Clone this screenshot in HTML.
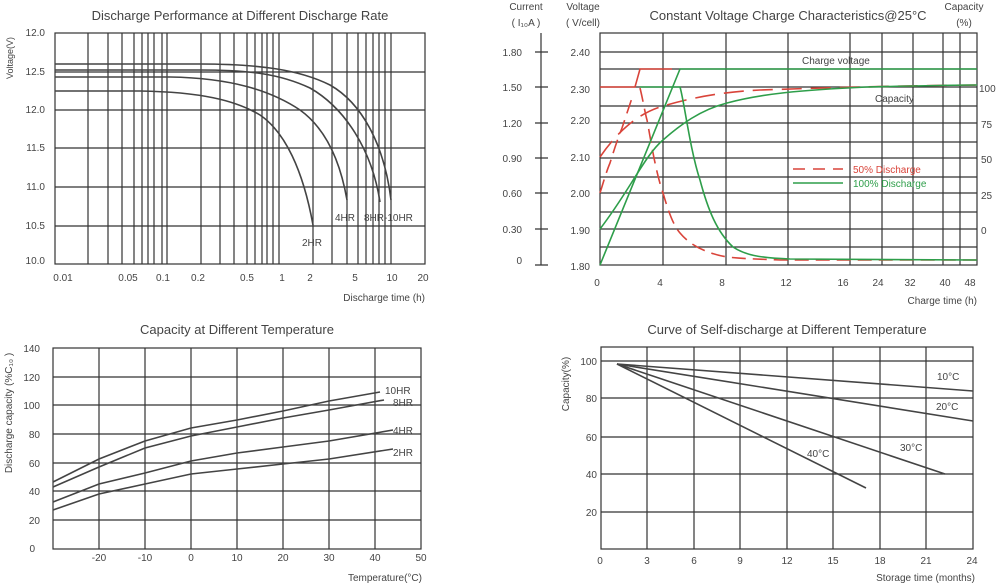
<!DOCTYPE html>
<html><head><meta charset="utf-8"><style>
html,body{margin:0;padding:0;background:#fff;}
svg{display:block;font-family:"Liberation Sans",sans-serif;}
text{fill:#444;}
.g{stroke:#333;stroke-width:1.2;fill:none;}
.c{stroke:#444;stroke-width:1.6;fill:none;}
</style></head><body>
<svg width="1000" height="588" viewBox="0 0 1000 588" xmlns="http://www.w3.org/2000/svg">
<!-- Chart 1 -->
<text x="240" y="20" font-size="13" text-anchor="middle">Discharge Performance at Different Discharge Rate</text>
<rect x="55" y="33" width="370" height="231" class="g"/>
<g class="g">
<path d="M55 72H425M55 110H425M55 148H425M55 187H425M55 226H425"/>
<path d="M88 33V264M108 33V264M122 33V264M134 33V264M142 33V264M148 33V264M154 33V264M162 33V264M167 33V264M201 33V264M220 33V264M234 33V264M247 33V264M255 33V264M262 33V264M267 33V264M273 33V264M279 33V264M313 33V264M332 33V264M347 33V264M358 33V264M366 33V264M373 33V264M379 33V264M385 33V264M391 33V264"/>
</g>
<g font-size="10" text-anchor="end">
<text x="45" y="36">12.0</text><text x="45" y="75">12.5</text><text x="45" y="113">12.0</text><text x="45" y="151">11.5</text><text x="45" y="190">11.0</text><text x="45" y="229">10.5</text><text x="45" y="264">10.0</text>
</g>
<g font-size="10" text-anchor="middle">
<text x="63" y="281">0.01</text><text x="128" y="281">0.05</text><text x="163" y="281">0.1</text><text x="198" y="281">0.2</text><text x="247" y="281">0.5</text><text x="282" y="281">1</text><text x="310" y="281">2</text><text x="355" y="281">5</text><text x="392" y="281">10</text><text x="423" y="281">20</text>
</g>
<text x="425" y="301" font-size="10" text-anchor="end">Discharge time (h)</text>
<text transform="translate(13,58) rotate(-90)" font-size="9" text-anchor="middle">Voltage(V)</text>
<g class="c">
<path d="M55 64H200C260 64 300 70 330 85C365 105 385 150 391 200"/>
<path d="M55 70H200C250 70 280 74 310 88C345 108 372 150 380 202"/>
<path d="M55 77H170C230 78 270 90 300 110C325 128 340 160 347 200"/>
<path d="M55 91H140C200 92 235 100 260 115C285 132 303 170 313 225"/>
</g>
<g font-size="10"><text x="302" y="246">2HR</text><text x="335" y="221">4HR</text><text x="364" y="221">8HR-10HR</text></g>

<!-- Chart 2 -->
<text x="788" y="20" font-size="13" text-anchor="middle">Constant Voltage Charge Characteristics@25°C</text>
<rect x="600" y="33" width="377" height="232" class="g"/>
<g class="g">
<path d="M600 52H977M600 69H977M600 87H977M600 106H977M600 123H977M600 142H977M600 158H977M600 177H977M600 193H977M600 212H977M600 229H977M600 247H977"/>
<path d="M663 33V265M726 33V265M788 33V265M850 33V265M882 33V265M913 33V265M943 33V265M960 33V265"/>
<path d="M541 33V265M535 52H548M535 87H548M535 123H548M535 158H548M535 193H548M535 229H548M535 265H548"/>
</g>
<g font-size="10">
<text x="526" y="10" text-anchor="middle">Current</text><text x="526" y="26" text-anchor="middle">( I₁₀A )</text>
<text x="583" y="10" text-anchor="middle">Voltage</text><text x="583" y="26" text-anchor="middle">( V/cell)</text>
<text x="964" y="10" text-anchor="middle">Capacity</text><text x="964" y="26" text-anchor="middle">(%)</text>
</g>
<g font-size="10" text-anchor="end">
<text x="522" y="56">1.80</text><text x="522" y="91">1.50</text><text x="522" y="127">1.20</text><text x="522" y="162">0.90</text><text x="522" y="197">0.60</text><text x="522" y="233">0.30</text><text x="522" y="264">0</text>
<text x="590" y="56">2.40</text><text x="590" y="93">2.30</text><text x="590" y="124">2.20</text><text x="590" y="161">2.10</text><text x="590" y="197">2.00</text><text x="590" y="234">1.90</text><text x="590" y="270">1.80</text>
</g>
<g font-size="10"><text x="979" y="92">100</text><text x="981" y="128">75</text><text x="981" y="163">50</text><text x="981" y="199">25</text><text x="981" y="234">0</text></g>
<g font-size="10" text-anchor="middle">
<text x="597" y="286">0</text><text x="660" y="286">4</text><text x="722" y="286">8</text><text x="786" y="286">12</text><text x="843" y="286">16</text><text x="878" y="286">24</text><text x="910" y="286">32</text><text x="945" y="286">40</text><text x="970" y="286">48</text>
</g>
<text x="977" y="304" font-size="10" text-anchor="end">Charge time (h)</text>
<g fill="none" stroke-width="1.6">
<path d="M600 87H635L640 69H672" stroke="#d9443a"/>
<path d="M640 88C643 100 645 113 647 120C650 135 655 170 663 193C668 210 673 225 680 233C690 245 705 253 727 257C745 259 760 259 780 260L977 260" stroke="#d9443a" stroke-dasharray="14 7"/>
<path d="M600 193C604 180 607 170 610 163C614 150 618 138 622 128L632 98" stroke="#d9443a" stroke-dasharray="14 7"/>
<path d="M600 157C615 135 635 115 660 107C690 98 720 92 760 90C820 88 880 86 977 85" stroke="#d9443a" stroke-dasharray="20 9"/>
<path d="M600 265L680 69H977" stroke="#2e9e4a"/>
<path d="M640 87H680C684 100 690 150 700 180C708 210 717 232 733 247C745 255 760 258 790 259L977 260" stroke="#2e9e4a"/>
<path d="M600 229C630 190 645 155 663 140C680 125 700 110 727 103C760 94 800 90 867 87C910 86 950 85 977 85" stroke="#2e9e4a"/>
<path d="M793 169H843" stroke="#d9443a" stroke-dasharray="12 8"/>
<path d="M793 183H843" stroke="#2e9e4a"/>
</g>
<text x="853" y="173" font-size="10" style="fill:#d9443a">50% Discharge</text>
<text x="853" y="187" font-size="10" style="fill:#2e9e4a">100% Discharge</text>
<text x="802" y="64" font-size="10">Charge voltage</text>
<text x="875" y="102" font-size="10">Capacity</text>

<!-- Chart 3 -->
<text x="237" y="334" font-size="13" text-anchor="middle">Capacity at Different Temperature</text>
<rect x="53" y="348" width="368" height="201" class="g"/>
<g class="g">
<path d="M53 377H421M53 405H421M53 434H421M53 463H421M53 491H421M53 520H421"/>
<path d="M99 348V549M145 348V549M191 348V549M237 348V549M283 348V549M329 348V549M375 348V549"/>
</g>
<g font-size="10" text-anchor="end">
<text x="40" y="352">140</text><text x="40" y="381">120</text><text x="40" y="409">100</text><text x="40" y="438">80</text><text x="40" y="467">60</text><text x="40" y="495">40</text><text x="40" y="524">20</text><text x="35" y="552">0</text>
</g>
<g font-size="10" text-anchor="middle">
<text x="99" y="561">-20</text><text x="145" y="561">-10</text><text x="191" y="561">0</text><text x="237" y="561">10</text><text x="283" y="561">20</text><text x="329" y="561">30</text><text x="375" y="561">40</text><text x="421" y="561">50</text>
</g>
<text x="422" y="581" font-size="10" text-anchor="end">Temperature(°C)</text>
<text transform="translate(12,413) rotate(-90)" font-size="10" text-anchor="middle">Discharge capacity (%C₁₀ )</text>
<g class="c">
<path d="M53 482L99 459L145 441L191 428L237 420L283 411L329 401L380 392"/>
<path d="M53 487L99 467L145 448L191 436L237 427L283 418L329 410L384 400"/>
<path d="M53 502L99 484L145 473L191 461L237 453L283 447L329 441L393 430"/>
<path d="M53 510L99 494L145 484L191 474L237 469L283 464L329 459L393 449"/>
</g>
<g font-size="10"><text x="385" y="394">10HR</text><text x="393" y="406">8HR</text><text x="393" y="434">4HR</text><text x="393" y="456">2HR</text></g>

<!-- Chart 4 -->
<text x="787" y="334" font-size="13" text-anchor="middle">Curve of Self-discharge at Different Temperature</text>
<rect x="601" y="347" width="372" height="202" class="g"/>
<g class="g">
<path d="M601 361H973M601 398H973M601 437H973M601 474H973M601 512H973"/>
<path d="M647 347V549M694 347V549M740 347V549M787 347V549M833 347V549M880 347V549M926 347V549"/>
</g>
<g font-size="10" text-anchor="end">
<text x="597" y="365">100</text><text x="597" y="402">80</text><text x="597" y="441">60</text><text x="597" y="478">40</text><text x="597" y="516">20</text>
</g>
<g font-size="10" text-anchor="middle">
<text x="600" y="564">0</text><text x="647" y="564">3</text><text x="694" y="564">6</text><text x="740" y="564">9</text><text x="787" y="564">12</text><text x="833" y="564">15</text><text x="880" y="564">18</text><text x="926" y="564">21</text><text x="972" y="564">24</text>
</g>
<text x="975" y="581" font-size="10" text-anchor="end">Storage time (months)</text>
<text transform="translate(569,384) rotate(-90)" font-size="10" text-anchor="middle">Capacity(%)</text>
<g class="c">
<path d="M617 364L973 391"/><path d="M617 364L973 421"/><path d="M617 364L945 474"/><path d="M617 364L866 488"/>
</g>
<g font-size="10"><text x="937" y="380">10°C</text><text x="936" y="410">20°C</text><text x="900" y="451">30°C</text><text x="807" y="457">40°C</text></g>
</svg>
</body></html>
